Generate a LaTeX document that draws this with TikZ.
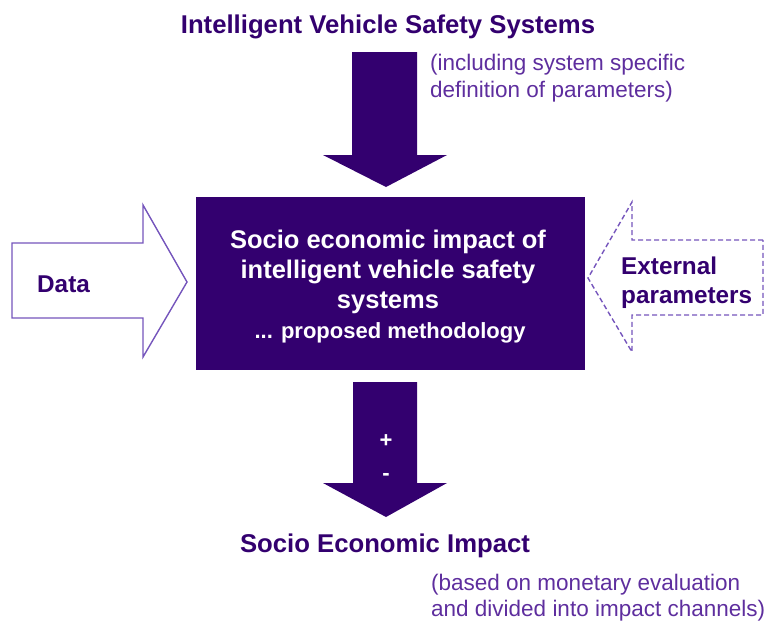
\documentclass[tikz,border=0pt]{standalone}
\usepackage{fontspec}
\setmainfont{Liberation Sans}
\definecolor{deep}{HTML}{33006F}
\definecolor{soft}{HTML}{5E2E9E}
\definecolor{edge}{HTML}{7555BC}
\begin{document}
\begin{tikzpicture}[x=1pt,y=-1pt,
  title/.style={font=\bfseries\fontsize{25.7}{28}\selectfont, text=deep, inner sep=0pt, anchor=base},
  note/.style={font=\fontsize{22.5}{26}\selectfont, text=soft, anchor=base west, inner sep=0pt},
  boxtext/.style={font=\bfseries\fontsize{25.5}{28}\selectfont, text=white, anchor=base, inner sep=0pt},
  sidetext/.style={font=\bfseries\fontsize{24.3}{28}\selectfont, text=deep, anchor=base west, inner sep=0pt},
  signtext/.style={font=\bfseries\fontsize{22}{24}\selectfont, text=white, inner sep=0pt}]
\useasboundingbox (0,0) rectangle (765,622);
% top arrow
\fill[deep] (352,52) -- (417,52) -- (417,155) -- (447,155) -- (386,187) -- (323,155) -- (352,155) -- cycle;
% central box
\fill[deep] (196,197) rectangle (585,370);
% data arrow
\draw[edge, line width=1.4pt, fill=white, line join=miter] (12,243) -- (143,243) -- (143,205) -- (187,282) -- (143,357) -- (143,318) -- (12,318) -- cycle;
% external arrow
\draw[edge, line width=1.4pt, dash pattern=on 5pt off 3pt] (763,240) -- (632,240) -- (632,202) -- (588,278) -- (632,352) -- (632,315) -- (763,315) -- cycle;
% bottom arrow
\fill[deep] (353,382) -- (417,382) -- (417,483) -- (447,483) -- (386,517) -- (323,483) -- (353,483) -- cycle;
% texts
\node[title] (t1) at (388,33) {Intelligent Vehicle Safety Systems};
\node[note] (n1a) at (430,70) {(including system specific};
\node[note] (n1b) at (430,97) {definition of parameters)};
\node[boxtext] (b1) at (388,248) {Socio economic impact of};
\node[boxtext] (b2) at (388,278) {intelligent vehicle safety};
\node[boxtext] (b3) at (388,308) {systems};
\node[boxtext, font=\bfseries\fontsize{22}{26}\selectfont] (b4) at (390,338) {... proposed methodology};
\node[sidetext] (d) at (37,292) {Data};
\node[sidetext] (e1) at (621,274) {External};
\node[sidetext] (e2) at (621,303) {parameters};
\node[signtext] (plus) at (386,441) {+};
\node[signtext] (minus) at (386,477) {-};
\node[title] (t2) at (385,552) {Socio Economic Impact};
\node[note] (n2a) at (431,590) {(based on monetary evaluation};
\node[note] (n2b) at (431,616) {and divided into impact channels)};
\end{tikzpicture}
\end{document}
